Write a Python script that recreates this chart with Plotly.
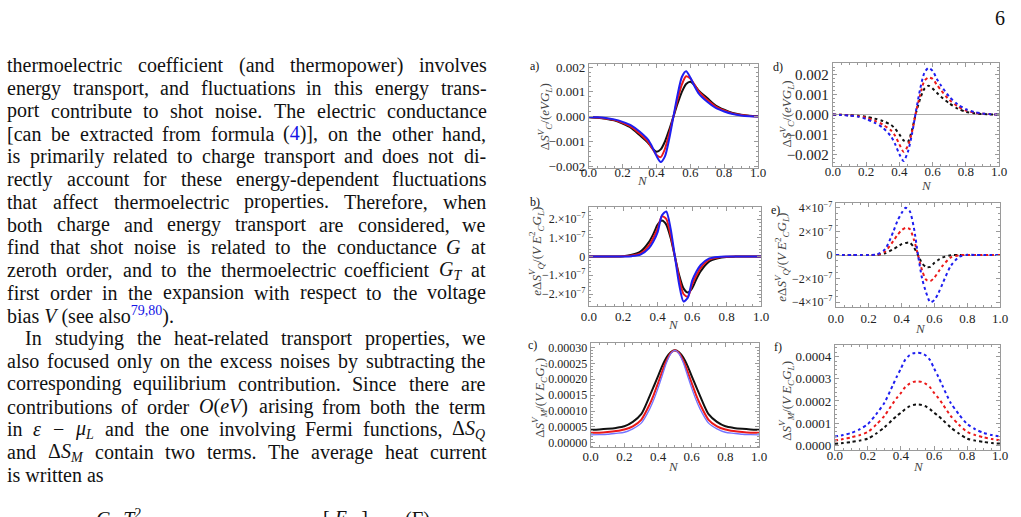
import re
import plotly.graph_objects as go

W, H = 1021, 517

# ---------------- data ----------------
N = [0, .05, .1, .15, .2, .25, .3, .35, .375, .4, .425, .45, .475, .5,
     .525, .55, .575, .6, .625, .65, .7, .75, .8, .85, .9, .95, 1.0]

# a) Delta S_C (solid)
a_black = [-0.00002, -0.00004, -0.00008, -0.00015, -0.00028, -0.00045, -0.00074, -0.00105, -0.00127, -0.00141,
           -0.00132, -0.00100, -0.00053, 0, 0.00053, 0.00100, 0.00132, 0.00141, 0.00127, 0.00105,
           0.00075, 0.00045, 0.00028, 0.00015, 0.00008, 0.00004, 0.00002]
a_red = [-0.00001, -0.00003, -0.00007, -0.00013, -0.00025, -0.00041, -0.00068, -0.00102, -0.00128, -0.00154,
         -0.00163, -0.00130, -0.00070, 0, 0.00070, 0.00130, 0.00163, 0.00154, 0.00128, 0.00102,
         0.00068, 0.00041, 0.00025, 0.00013, 0.00007, 0.00003, 0.00001]
a_blue = [-0.00001, -0.00002, -0.00005, -0.00011, -0.00021, -0.00035, -0.00060, -0.00093, -0.00122, -0.00158,
          -0.00183, -0.00160, -0.00090, 0, 0.00090, 0.00160, 0.00183, 0.00158, 0.00122, 0.00093,
          0.00060, 0.00035, 0.00021, 0.00011, 0.00005, 0.00002, 0.00001]

# b) e Delta S_Q (solid), units of 1e-7
b_black = [0, 0, 0, 0.005, 0.02, 0.09, 0.26, 0.78, 1.2, 1.7, 1.92, 1.7, 1.0, 0,
           -1.0, -1.7, -1.92, -1.7, -1.2, -0.78, -0.26, -0.09, -0.02, -0.005, 0, 0, 0]
b_red = [0, 0, 0, 0.002, 0.01, 0.05, 0.17, 0.6, 1.0, 1.5, 2.15, 2.0, 1.15, 0,
         -1.15, -2.0, -2.15, -1.5, -1.0, -0.6, -0.17, -0.05, -0.01, -0.002, 0, 0, 0]
b_blue = [0, 0, 0, 0, 0.003, 0.02, 0.1, 0.45, 0.8, 1.3, 2.2, 2.4, 1.5, 0,
          -1.5, -2.4, -2.2, -1.3, -0.8, -0.45, -0.1, -0.02, -0.003, 0, 0, 0, 0]

# c) Delta S_M (solid)
c_black = [0.000041, 0.000042, 0.000044, 0.000047, 0.000052, 0.000066, 0.000090, 0.000147, 0.000178, 0.000210,
           0.000242, 0.000268, 0.000285, 0.000291, 0.000285, 0.000268, 0.000242, 0.000210, 0.000178, 0.000147,
           0.000090, 0.000066, 0.000052, 0.000047, 0.000044, 0.000042, 0.000041]
c_red = [0.0000315, 0.000032, 0.000034, 0.000037, 0.000042, 0.000052, 0.0000725, 0.000121, 0.000152, 0.000188,
         0.000225, 0.000258, 0.000282, 0.000291, 0.000282, 0.000258, 0.000225, 0.000188, 0.000152, 0.000121,
         0.0000725, 0.000052, 0.000042, 0.000037, 0.000034, 0.000032, 0.0000315]
c_blue = [0.0000253, 0.000026, 0.000027, 0.000030, 0.0000333, 0.000044, 0.000062, 0.000106, 0.000136, 0.000172,
          0.000212, 0.000252, 0.000280, 0.000291, 0.000280, 0.000252, 0.000212, 0.000172, 0.000136, 0.000106,
          0.000062, 0.000044, 0.0000333, 0.000030, 0.000027, 0.000026, 0.0000253]

# d) Delta S_C (dotted)
d_black = [0, -0.00001, -0.00003, -0.00006, -0.00011, -0.0002, -0.00032, -0.00052, -0.00072, -0.001,
           -0.0013, -0.00138, -0.0008, 0.0001, 0.0008, 0.0013, 0.00146, 0.00131, 0.0011, 0.0009,
           0.00057, 0.0003, 0.00014, 0.00007, 0.00003, 0.00001, 0]
d_red = [0, -0.00001, -0.00004, -0.00008, -0.00016, -0.0003, -0.0005, -0.0008, -0.00108, -0.0015,
         -0.00187, -0.0016, -0.0009, 0.00015, 0.001, 0.0017, 0.00187, 0.0018, 0.0015, 0.00123,
         0.00074, 0.00042, 0.0002, 0.0001, 0.00005, 0.00002, 0]
d_blue = [0, -0.00002, -0.00005, -0.0001, -0.00022, -0.0004, -0.00066, -0.0011, -0.0015, -0.002,
          -0.00234, -0.0019, -0.001, 0.0002, 0.0013, 0.0021, 0.00236, 0.0022, 0.0018, 0.00147,
          0.0009, 0.00052, 0.00027, 0.00013, 0.00006, 0.00002, 0]

# e) e Delta S_Q (dotted), units of 1e-7
e_black = [0, 0, 0, 0, 0, 0.01, 0.15, 0.5, 0.7, 0.92, 1.02, 1.05, 0.65, 0,
           -0.7, -1.02, -1.0, -0.65, -0.4, -0.2, -0.02, 0, 0, 0, 0, 0, 0]
e_red = [0, 0, 0, 0, 0, 0.02, 0.3, 1.2, 1.7, 2.1, 2.3, 2.2, 1.3, 0,
         -1.3, -2.1, -2.2, -1.9, -1.4, -0.9, -0.2, -0.02, 0.01, 0, 0, 0, 0]
e_blue = [0, 0, 0, 0, 0, 0.05, 0.5, 2.0, 2.9, 3.55, 4.0, 3.7, 2.3, 0,
          -2.0, -3.2, -4.0, -3.8, -3.2, -2.4, -0.9, -0.15, 0.02, 0.01, 0, 0, 0]

# f) Delta S_M (dotted)
f_black = [0.0000075, 0.00001, 0.000015, 0.000021, 0.00003, 0.000053, 0.000081, 0.000116, 0.000133, 0.000147,
           0.000163, 0.000175, 0.000182, 0.000184, 0.000182, 0.000175, 0.000163, 0.000147, 0.000133, 0.000116,
           0.000081, 0.000053, 0.00003, 0.000021, 0.000015, 0.00001, 0.0000075]
f_red = [0.000022, 0.000028, 0.000036, 0.000046, 0.00006, 0.000093, 0.000133, 0.000188, 0.000214, 0.000236,
         0.000262, 0.000277, 0.000286, 0.000288, 0.000286, 0.000277, 0.000262, 0.000236, 0.000214, 0.000188,
         0.000133, 0.000093, 0.00006, 0.000046, 0.000036, 0.000028, 0.000022]
f_blue = [0.00004, 0.000046, 0.000056, 0.000072, 0.000096, 0.00014, 0.000192, 0.00027, 0.00031, 0.000347,
          0.000385, 0.000405, 0.000415, 0.000417, 0.000415, 0.000405, 0.000385, 0.000347, 0.00031, 0.00027,
          0.000192, 0.00014, 0.000096, 0.000072, 0.000056, 0.000046, 0.00004]

x_tickvals = [0, 0.2, 0.4, 0.6, 0.8, 1.0]
x_ticktext = ["0.0", "0.2", "0.4", "0.6", "0.8", "1.0"]

yt_a = [-0.002, -0.001, 0, 0.001, 0.002]
yl_a = ["−0.002", "−0.001", "0.000", "0.001", "0.002"]
yt_b = [-2, -1, 0, 1, 2]
yl_b = ["−2.×10<sup>−7</sup>", "−1.×10<sup>−7</sup>", "0", "1.×10<sup>−7</sup>", "2.×10<sup>−7</sup>"]
yt_c = [0, 0.00005, 0.0001, 0.00015, 0.0002, 0.00025, 0.0003]
yl_c = ["0.00000", "0.00005", "0.00010", "0.00015", "0.00020", "0.00025", "0.00030"]
yt_e = [-4, -2, 0, 2, 4]
yl_e = ["−4×10<sup>−7</sup>", "−2×10<sup>−7</sup>", "0", "2×10<sup>−7</sup>", "4×10<sup>−7</sup>"]
yt_f = [0, 0.0001, 0.0002, 0.0003, 0.0004]
yl_f = ["0.0000", "0.0001", "0.0002", "0.0003", "0.0004"]

BLACK, RED, BLUE, LBLUE = "#111111", "rgb(235,25,25)", "rgb(30,30,240)", "rgb(115,115,255)"
FRAME = "#9a9a9a"
SERIF = "Liberation Serif"


def fx(x):
    return x / W


def fy(y):
    return 1 - y / H


panels = [
    dict(xd=(590, 762), yd=(61, 167), yr=(-0.00206, 0.00213), tv=yt_a, tt=yl_a, fs=13, zero=True, so=-7,
         series=[(a_black, BLACK, 2, "solid"), (a_red, RED, 2, "solid"), (a_blue, BLUE, 2, "solid")], minor=0.0002),
    dict(xd=(590, 765), yd=(207, 308), yr=(-2.64, 2.64), tv=yt_b, tt=yl_b, fs=12, zero=True, so=-2,
         series=[(b_black, BLACK, 2, "solid"), (b_red, RED, 2, "solid"), (b_blue, BLUE, 2, "solid")], minor=0.2),
    dict(xd=(592, 763), yd=(346, 452), yr=(-0.0000139, 0.000313), tv=yt_c, tt=yl_c, fs=12, zero=False, so=-3,
         series=[(c_black, BLACK, 2, "solid"), (c_red, RED, 2, "solid"), (c_blue, LBLUE, 1.3, "solid")], minor=0.00001),
    dict(xd=(838, 1007), yd=(60, 165), yr=(-0.00258, 0.00261), tv=yt_a, tt=yl_a, fs=15, zero=True, so=-6,
         series=[(d_black, BLACK, 2, "dot"), (d_red, RED, 2, "dot"), (d_blue, BLUE, 2, "dot")], minor=0.0002),
    dict(xd=(841, 1008), yd=(203, 309), yr=(-4.4, 4.4), tv=yt_e, tt=yl_e, fs=12, zero=True, so=-1,
         series=[(e_black, BLACK, 2, "dot"), (e_red, RED, 2, "dot"), (e_blue, BLUE, 2, "dot")], minor=0.5),
    dict(xd=(840, 1008), yd=(348, 455), yr=(-0.0000221, 0.000451), tv=yt_f, tt=yl_f, fs=13, zero=False, so=-7,
         series=[(f_black, BLACK, 2, "dot"), (f_red, RED, 2, "dot"), (f_blue, BLUE, 2, "dot")], minor=0.00002),
]

fig = go.Figure()
layout = dict(width=W, height=H, margin=dict(l=0, r=0, t=0, b=0), autosize=False,
              paper_bgcolor="white", plot_bgcolor="white", showlegend=False,
              font=dict(family=SERIF, color="#222"))

for i, p in enumerate(panels, start=1):
    sx = "" if i == 1 else str(i)
    for vals, col, wd, dash in p["series"]:
        fig.add_trace(go.Scatter(x=N, y=vals, xaxis="x" + sx, yaxis="y" + sx, mode="lines",
                                 line=dict(color=col, width=wd, dash=dash, shape="spline", smoothing=0.7),
                                 hoverinfo="skip"))
    layout["xaxis" + sx] = dict(domain=[fx(p["xd"][0]), fx(p["xd"][1])], range=[0, 1], anchor="y" + sx,
                                showline=True, linecolor=FRAME, linewidth=1, mirror="ticks",
                                ticks="inside", ticklen=4, tickcolor=FRAME, tickvals=x_tickvals,
                                ticktext=x_ticktext, tickfont=dict(size=13, family=SERIF, color="#222"),
                                ticklabelstandoff=p["so"],
                                showgrid=False, zeroline=False,
                                minor=dict(ticks="inside", ticklen=2, tickcolor=FRAME, dtick=0.05, tick0=0,
                                           showgrid=False))
    layout["yaxis" + sx] = dict(domain=[fy(p["yd"][1]), fy(p["yd"][0])], range=list(p["yr"]), anchor="x" + sx,
                                showline=True, linecolor=FRAME, linewidth=1, mirror="ticks",
                                ticks="inside", ticklen=4, tickcolor=FRAME, tickvals=p["tv"], ticktext=p["tt"],
                                tickfont=dict(size=p["fs"], family=SERIF, color="#222"),
                                showgrid=False, zeroline=p["zero"], zerolinecolor="#aaaaaa", zerolinewidth=1,
                                minor=dict(ticks="inside", ticklen=2, tickcolor=FRAME, dtick=p["minor"], tick0=0,
                                           showgrid=False))

fig.update_layout(**layout)

ann = []
LSHIFT = -10  # compensation for the annotation text offset seen when left-anchored


def add_text(x, y, text, size, color="#111", xanchor="left", yanchor="middle", angle=0):
    if xanchor == "left":
        x = x + LSHIFT
    ann.append(dict(x=fx(x), y=fy(y), xref="paper", yref="paper", text=text, showarrow=False,
                    xanchor=xanchor, yanchor=yanchor, textangle=angle, borderpad=0,
                    font=dict(family=SERIF, size=size, color=color)))


# panel letters
for lab, (x, y) in zip(["a)", "b)", "c)", "d)", "e)", "f)"],
                       [(535, 63), (535, 202), (533, 348), (782, 64), (780, 210), (782, 350)]):
    add_text(x, y, lab, 12, xanchor="center")

# N labels
for x, y in [(645, 180), (676, 327), (676, 472), (933, 185), (927, 331), (925, 472)]:
    add_text(x, y, "<i>N</i>", 13, color="#444", xanchor="center")

# y axis titles
ylab_C = "Δ<i>S</i><sup><i>V</i></sup><sub><i>C</i></sub>/(<i>eVG</i><sub><i>L</i></sub>)"
ylab_Q = "<i>e</i>Δ<i>S</i><sup><i>V</i></sup><sub><i>Q</i></sub>/(<i>V E</i><sup>2</sup><sub><i>C</i></sub><i>G</i><sub><i>L</i></sub>)"
ylab_M = "Δ<i>S</i><sup><i>V</i></sup><sub><i>M</i></sub>/(<i>V E</i><sub><i>C</i></sub><i>G</i><sub><i>L</i></sub>)"
for (x, y), t in zip([(545, 115), (537, 252), (540, 402), (791, 112), (786, 258), (791, 405)],
                     [ylab_C, ylab_Q, ylab_M, ylab_C, ylab_Q, ylab_M]):
    add_text(x, y, t, 13, color="#444", xanchor="center", angle=-90)

# page number
add_text(1008, 14, "6", 20, xanchor="center")

# ---------------- left column text (justified using Times metrics) ----------------
TW = {' ': 250, '!': 333, '(': 333, ')': 333, ',': 250, '-': 333, '.': 250, ':': 278, ';': 278,
      '[': 333, ']': 333, 'A': 722, 'B': 667, 'C': 667, 'D': 722, 'E': 611, 'F': 556, 'G': 722, 'H': 722,
      'I': 333, 'J': 389, 'K': 722, 'L': 611, 'M': 889, 'N': 722, 'O': 722, 'P': 556, 'Q': 722, 'R': 667,
      'S': 556, 'T': 611, 'U': 722, 'V': 722, 'W': 944, 'X': 722, 'Y': 722, 'Z': 611,
      'a': 444, 'b': 500, 'c': 444, 'd': 500, 'e': 444, 'f': 333, 'g': 500, 'h': 500, 'i': 278, 'j': 278,
      'k': 500, 'l': 278, 'm': 778, 'n': 500, 'o': 500, 'p': 500, 'q': 500, 'r': 333, 's': 389, 't': 278,
      'u': 500, 'v': 500, 'w': 722, 'x': 500, 'y': 500, 'z': 444, 'Δ': 612, 'ε': 440, 'μ': 576, '−': 564}


def html_width(s):
    w, scale = 0.0, 1.0
    for t in re.split(r"(<[^>]+>)", s):
        if t.startswith("<"):
            inner = t.strip("</>")
            tag = inner.split()[0].lower() if inner else ""
            if tag in ("sub", "sup"):
                scale = 1.0 if t.startswith("</") else 0.7
        else:
            for ch in t:
                w += TW.get(ch, 500) * scale
    return w / 1000.0


def split_words(s):
    words, cur, depth = [], "", 0
    for ch in s:
        if ch == "<":
            depth += 1
        elif ch == ">":
            depth -= 1
        if ch == " " and depth == 0:
            if cur:
                words.append(cur)
            cur = ""
        else:
            cur += ch
    if cur:
        words.append(cur)
    return words


LINK = "#1515e6"
text_lines = [
    ("thermoelectric coefficient (and thermopower) involves", True, 8),
    ("energy transport, and fluctuations in this energy trans-", True, 8),
    ("port contribute to shot noise. The electric conductance", True, 8),
    ("[can be extracted from formula (<span style='color:" + LINK + "'>4</span>)], on the other hand,", True, 8),
    ("is primarily related to charge transport and does not di-", True, 8),
    ("rectly account for these energy-dependent fluctuations", True, 8),
    ("that affect thermoelectric properties. Therefore, when", True, 8),
    ("both charge and energy transport are considered, we", True, 8),
    ("find that shot noise is related to the conductance <i>G</i> at", True, 8),
    ("zeroth order, and to the thermoelectric coefficient <i>G</i><sub><i>T</i></sub> at", True, 8),
    ("first order in the expansion with respect to the voltage", True, 8),
    ("bias <i>V</i> (see also<sup><span style='color:" + LINK + "'>79,80</span></sup>).", False, 8),
    ("In studying the heat-related transport properties, we", True, 26),
    ("also focused only on the excess noises by subtracting the", True, 8),
    ("corresponding equilibrium contribution. Since there are", True, 8),
    ("contributions of order <i>O</i>(<i>eV</i>) arising from both the term", True, 8),
    ("in <i>ε</i> − <i>μ</i><sub><i>L</i></sub> and the one involving Fermi functions, Δ<i>S</i><sub><i>Q</i></sub>", True, 8),
    ("and Δ<i>S</i><sub><i>M</i></sub> contain two terms. The average heat current", True, 8),
    ("is written as", False, 8),
]
FS = 20
RIGHT = 494
for k, (line, justify, x0) in enumerate(text_lines):
    yc = 62.5 + 23.2 * k
    if not justify:
        add_text(x0, yc, line, FS)
        continue
    words = split_words(line)
    widths = [html_width(w) * FS for w in words]
    gap = (RIGHT - x0 - sum(widths)) / (len(words) - 1)
    x = x0
    for w, wd in zip(words, widths):
        add_text(x, yc, w, FS)
        x += wd + gap

# partially visible equation at the bottom edge
add_text(112, 526, "<i>G</i><sub><i>L</i></sub> <i>T</i><sup>2</sup>", FS, xanchor="center")
add_text(343, 526, "[ <i>E</i><sub><i>C</i></sub> ]", FS, xanchor="center")
add_text(416, 526, "(Γ)", FS, xanchor="center")

fig.update_layout(annotations=ann)
fig.write_html("out.html")
